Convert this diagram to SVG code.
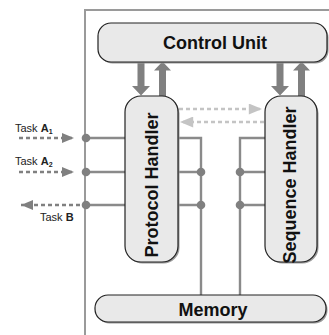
<svg xmlns="http://www.w3.org/2000/svg" width="329" height="335" viewBox="0 0 329 335">
  <defs>
    <style>
      .frame { fill: none; stroke: #9a9a9a; stroke-width: 2; }
      .block { fill: #e9e9e9; stroke: #222; stroke-width: 1.2; }
      .shadow { fill: #9a9a9a; }
      .label { font-family: "Liberation Sans", Arial, sans-serif; font-weight: bold; font-size: 18px; fill: #111; text-anchor: middle; }
      .task { font-family: "Liberation Sans", Arial, sans-serif; font-size: 11px; fill: #222; }
      .bus { fill: none; stroke: #8a8a8a; stroke-width: 2.4; }
      .dot { fill: #808080; }
      .thick { fill: #808080; }
      .ext { fill: none; stroke: #808080; stroke-width: 2.4; stroke-dasharray: 4 3; }
      .int { fill: none; stroke: #c4c4c4; stroke-width: 2.4; stroke-dasharray: 4 3; }
    </style>
    <marker id="extHead" viewBox="0 0 12 10" refX="12" refY="5" markerWidth="12" markerHeight="10" markerUnits="userSpaceOnUse" orient="auto">
      <path d="M0,0 L12,5 L0,10 Z" fill="#808080"/>
    </marker>
    <marker id="intHead" viewBox="0 0 12 10" refX="12" refY="5" markerWidth="14" markerHeight="11" markerUnits="userSpaceOnUse" orient="auto">
      <path d="M0,0 L12,5 L0,10 Z" fill="#c4c4c4"/>
    </marker>
  </defs>

  <rect width="329" height="335" fill="#ffffff"/>

  <!-- enclosing frame -->
  <path class="frame" d="M85,340 L85,10 L340,10"/>

  <!-- connectors -->
  <g id="connectors">
    <!-- bus lines left of the protocol handler -->
    <path class="bus" d="M86,138 H125 M86,172 H125 M86,205 H125"/>
    <!-- protocol handler to memory -->
    <path class="bus" d="M178,138 H201 V295 M178,172 H201 M178,205 H201"/>
    <!-- sequence handler to memory -->
    <path class="bus" d="M265,138 H240 V295 M265,172 H240 M265,205 H240"/>
    <circle class="dot" cx="86" cy="138" r="4.3"/>
    <circle class="dot" cx="86" cy="172" r="4.3"/>
    <circle class="dot" cx="86" cy="205" r="4.3"/>
    <circle class="dot" cx="201" cy="172" r="4.3"/>
    <circle class="dot" cx="201" cy="205" r="4.3"/>
    <circle class="dot" cx="240" cy="172" r="4.3"/>
    <circle class="dot" cx="240" cy="205" r="4.3"/>

    <!-- external task lines -->
    <path class="ext" d="M19,138 H74" marker-end="url(#extHead)"/>
    <path class="ext" d="M19,172 H74" marker-end="url(#extHead)"/>
    <path class="ext" d="M80,205 H21" marker-end="url(#extHead)"/>

    <!-- handler to handler -->
    <path class="int" d="M179,109 H262" marker-end="url(#intHead)"/>
    <path class="int" d="M264,122 H180" marker-end="url(#intHead)"/>

    <!-- control unit links -->
    <path class="thick" d="M137.5,61 H144.5 V86 H150 L141,95.5 L132,86 H137.5 Z"/>
    <path class="thick" d="M159,96 H166 V70.5 H171 L162.5,61.5 L154,70.5 H159 Z"/>
    <path class="thick" d="M276.5,61 H283.5 V86 H289 L280,95.5 L271,86 H276.5 Z"/>
    <path class="thick" d="M298,96 H305 V70.5 H310 L301.5,61.5 L293,70.5 H298 Z"/>
  </g>

  <!-- task labels -->
  <text class="task" x="15" y="132">Task <tspan font-weight="bold">A</tspan><tspan font-weight="bold" font-size="7" dy="2">1</tspan></text>
  <text class="task" x="15" y="165">Task <tspan font-weight="bold">A</tspan><tspan font-weight="bold" font-size="7" dy="2">2</tspan></text>
  <text class="task" x="40" y="221">Task <tspan font-weight="bold">B</tspan></text>

  <g id="control-unit">
    <rect class="shadow" x="99.5" y="24.5" width="229" height="39" rx="13"/>
    <rect class="block" x="98" y="23" width="229" height="39" rx="13"/>
    <text class="label" x="215" y="48.5">Control Unit</text>
  </g>

  <g id="protocol-handler">
    <rect class="shadow" x="126.5" y="97.5" width="53" height="166" rx="16"/>
    <rect class="block" x="125" y="96" width="53" height="166" rx="16"/>
    <text class="label" transform="translate(151,185) rotate(-90)" y="6.5">Protocol Handler</text>
  </g>

  <g id="sequence-handler">
    <rect class="shadow" x="266.5" y="97.5" width="52" height="166" rx="16"/>
    <rect class="block" x="265" y="96" width="52" height="166" rx="16"/>
    <text class="label" transform="translate(289.5,185) rotate(-90)" y="6.5">Sequence Handler</text>
  </g>

  <g id="memory">
    <rect class="shadow" x="96.5" y="296.5" width="231" height="27" rx="13"/>
    <rect class="block" x="95" y="295" width="231" height="27" rx="13"/>
    <text class="label" x="213" y="315.5">Memory</text>
  </g>
</svg>
